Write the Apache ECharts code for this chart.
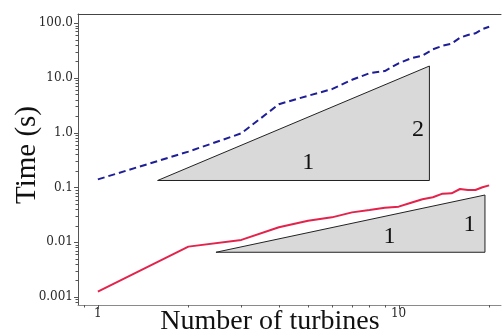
<!DOCTYPE html>
<html>
<head>
<meta charset="utf-8">
<script src="https://cdn.jsdelivr.net/npm/echarts@6/dist/echarts.min.js"></script>
<style>
  html, body { margin: 0; padding: 0; background: #fff; }
  #chart { width: 504px; height: 336px; }
</style>
</head>
<body>
<div id="chart"></div>
<script>
// data
var turbines = [1, 2, 3, 4, 5, 6, 7, 8, 9, 10, 11, 12, 13, 14, 15, 16, 17, 18, 19, 20]
var timeDashed = [0.14, 0.45, 0.97, 3.3, 4.7, 6.2, 9.2, 12.1, 13.3, 18.4, 22.7, 25.3, 33.1, 38.5, 41.9, 54, 60.4, 64.9, 77.6, 85.6]
var timeSolid = [0.00125, 0.0083, 0.011, 0.0187, 0.0247, 0.0284, 0.035, 0.0387, 0.0427, 0.0445, 0.0526, 0.0607, 0.066, 0.0768, 0.078, 0.0935, 0.0897, 0.0897, 0.1005, 0.109]

var xTickValues = [1, 10]
var xTickLabels = ['1', '10']
var yTickValues = [0.001, 0.01, 0.1, 1, 10, 100]
var yTickLabels = ['0.001', '0.01', '0.1', '1.0', '10.0', '100.0']
var minorSteps = [2, 3, 4, 5, 6, 7, 8, 9]

// slope triangles: [x left, x right, y bottom, y top]
var slopeTriangles = [
  [1.58, 12.66, 0.1336, 16.4],
  [2.47, 19.37, 0.00655, 0.0726]
]
// slope labels: [x, y, text]
var slopeLabels = [
  [5.01, 0.279, '1'],
  [11.6, 1.115, '2'],
  [9.32, 0.0126, '1'],
  [17.2, 0.0206, '1']
]

var xMin = 0.859
var xMax = 21.9
var yMin = 0.000714
var yMax = 146

function pairs (xs, ys) {
  return xs.map(function (x, i) { return [x, ys[i]] })
}

function labelFor (values, labels) {
  return function (v) {
    var e = Math.log10(v)
    for (var i = 0; i < values.length; i++) {
      if (Math.abs(Math.log10(values[i]) - e) < 1e-6) return labels[i]
    }
    return ''
  }
}

// tick marks (major + minor), placed through the axes
var xTicks = []
var yTicks = []
xTickValues.forEach(function (v) { xTicks.push([v, yMin, 1]) })
yTickValues.forEach(function (v) { yTicks.push([xMin, v, 1]) })
;[0.1].concat(xTickValues).forEach(function (d) {
  minorSteps.forEach(function (m) {
    var v = d * m
    if (v > xMin && v < xMax) xTicks.push([v, yMin, 0])
  })
})
;[0.0001].concat(yTickValues).forEach(function (d) {
  minorSteps.forEach(function (m) {
    var v = d * m
    if (v > yMin && v < yMax) yTicks.push([xMin, v, 0])
  })
})

var chart = echarts.init(document.getElementById('chart'))

chart.setOption({
  animation: false,
  grid: { left: 78, right: 0, top: 14, bottom: 31 },
  xAxis: [{
    type: 'log',
    logBase: 10,
    min: xMin,
    max: xMax,
    axisLine: { show: true, onZero: false, lineStyle: { color: '#8a8a8a', width: 1 } },
    axisTick: { show: false },
    splitLine: { show: false },
    axisLabel: {
      formatter: labelFor(xTickValues, xTickLabels),
      margin: 3,
      color: '#2a2a2a',
      fontFamily: 'DejaVu Serif',
      fontSize: 12
    }
  }, {
    type: 'log',
    logBase: 10,
    position: 'top',
    min: xMin,
    max: xMax,
    axisLine: { show: true, onZero: false, lineStyle: { color: '#444', width: 1 } },
    axisTick: { show: false },
    axisLabel: { show: false },
    splitLine: { show: false }
  }],
  yAxis: {
    type: 'log',
    logBase: 10,
    min: yMin,
    max: yMax,
    axisLine: { show: true, onZero: false, lineStyle: { color: '#555', width: 1 } },
    axisTick: { show: false },
    splitLine: { show: false },
    axisLabel: {
      formatter: labelFor(yTickValues, yTickLabels),
      margin: 5,
      color: '#2a2a2a',
      fontFamily: 'DejaVu Serif',
      fontSize: 12
    }
  },
  graphic: [
    {
      type: 'text',
      x: 270,
      y: 322,
      style: {
        text: 'Number of turbines',
        font: '28px "Liberation Serif"',
        fill: '#111',
        align: 'center',
        verticalAlign: 'middle'
      }
    },
    {
      type: 'text',
      x: 27,
      y: 155,
      rotation: Math.PI / 2,
      style: {
        text: 'Time (s)',
        font: '29px "Liberation Serif"',
        fill: '#111',
        align: 'center',
        verticalAlign: 'middle'
      }
    }
  ],
  series: [
    {
      type: 'custom',
      name: 'triangles',
      clip: false,
      z: 1,
      data: slopeTriangles,
      renderItem: function (params, api) {
        var a = api.coord([api.value(0), api.value(2)])
        var b = api.coord([api.value(1), api.value(2)])
        var c = api.coord([api.value(1), api.value(3)])
        return {
          type: 'polygon',
          shape: { points: [a, b, c] },
          style: { fill: '#d9d9d9', stroke: '#222', lineWidth: 1 }
        }
      }
    },
    {
      type: 'custom',
      name: 'slopeText',
      clip: false,
      z: 3,
      data: slopeLabels,
      renderItem: function (params, api) {
        var p = api.coord([api.value(0), api.value(1)])
        return {
          type: 'text',
          x: p[0],
          y: p[1],
          style: {
            text: slopeLabels[params.dataIndex][2],
            font: '24px "Liberation Serif"',
            fill: '#111',
            align: 'center',
            verticalAlign: 'middle'
          }
        }
      }
    },
    {
      type: 'line',
      name: 'dashed',
      data: pairs(turbines, timeDashed),
      symbol: 'none',
      z: 4,
      lineStyle: { color: '#1e1e96', width: 2, type: [7, 4] }
    },
    {
      type: 'line',
      name: 'solid',
      data: pairs(turbines, timeSolid),
      symbol: 'none',
      z: 4,
      lineStyle: { color: '#e3234b', width: 2 }
    },
    {
      type: 'custom',
      name: 'xTicks',
      clip: false,
      z: 5,
      data: xTicks,
      renderItem: function (params, api) {
        var p = api.coord([api.value(0), api.value(1)])
        var len = api.value(2) ? 4 : 2.5
        var x = Math.round(p[0]) + 0.5
        return {
          type: 'line',
          shape: { x1: x, y1: p[1], x2: x, y2: p[1] + len },
          style: { stroke: '#555', lineWidth: 1 }
        }
      }
    },
    {
      type: 'custom',
      name: 'yTicks',
      clip: false,
      z: 5,
      data: yTicks,
      renderItem: function (params, api) {
        var p = api.coord([api.value(0), api.value(1)])
        var len = api.value(2) ? 4 : 2.5
        var y = Math.round(p[1]) + 0.5
        return {
          type: 'line',
          shape: { x1: p[0], y1: y, x2: p[0] - len, y2: y },
          style: { stroke: '#555', lineWidth: 1 }
        }
      }
    }
  ]
})
</script>
</body>
</html>
